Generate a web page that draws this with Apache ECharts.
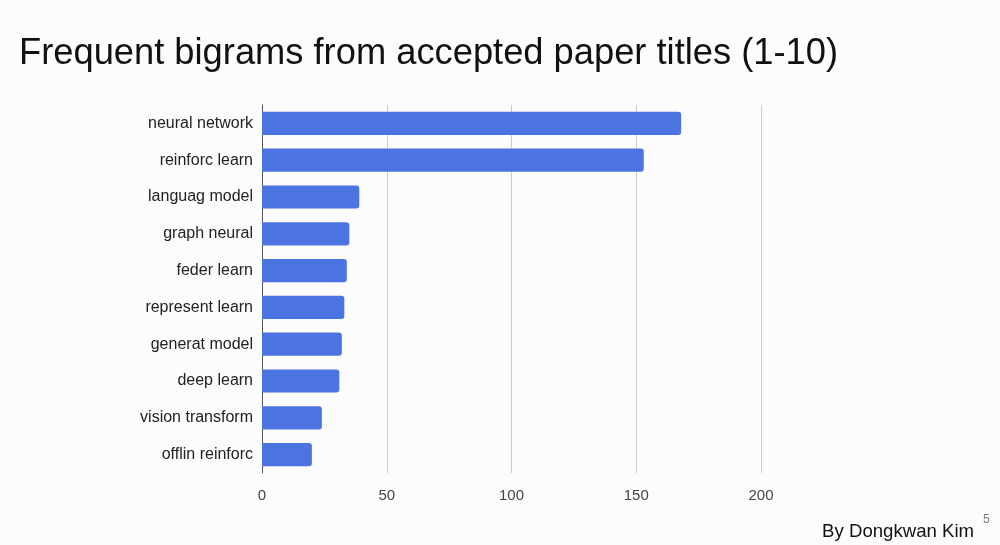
<!DOCTYPE html>
<html>
<head>
<meta charset="utf-8">
<script src="https://cdn.jsdelivr.net/npm/echarts@6/dist/echarts.min.js"></script>
<style>
html,body{margin:0;padding:0;background:#fcfcfc;}
#chart{width:1000px;height:545px;}
</style>
</head>
<body>
<div id="chart"></div>
<script>
const categories = ["neural network","reinforc learn","languag model","graph neural","feder learn","represent learn","generat model","deep learn","vision transform","offlin reinforc"];
const counts = [168,153,39,35,34,33,32,31,24,20];
const xTicks = [0,50,100,150,200];

const chart = echarts.init(document.getElementById('chart'));
chart.setOption({
  backgroundColor: '#fcfcfc',
  animation: false,
  title: {
    text: 'Frequent bigrams from accepted paper titles (1-10)',
    left: 14, top: 31,
    textStyle: {fontFamily: 'Liberation Sans, Arial, sans-serif', fontSize: 36.3, fontWeight: 'normal', color: '#111'}
  },
  graphic: [
    {type: 'text', right: 26, top: 522, style: {text: 'By Dongkwan Kim', fontFamily: 'Liberation Sans, Arial, sans-serif', fontSize: 18.6, fill: '#111'}},
    {type: 'text', left: 983, top: 514, style: {text: '5', fontFamily: 'Liberation Sans, Arial, sans-serif', fontSize: 12, fill: '#777'}}
  ],
  grid: {left: 262, right: 239, top: 105, bottom: 72, containLabel: false},
  xAxis: {
    type: 'value', min: xTicks[0], max: xTicks[xTicks.length-1], interval: 50,
    axisLine: {show: false},
    axisTick: {show: false},
    splitLine: {show: true, lineStyle: {color: '#cccccc', width: 1}},
    axisLabel: {margin: 15, fontFamily: 'Liberation Sans, Arial, sans-serif', fontSize: 15, color: '#444'}
  },
  yAxis: {
    type: 'category', inverse: true, data: categories,
    axisLine: {show: true, lineStyle: {color: '#555', width: 1}},
    axisTick: {show: false},
    axisLabel: {margin: 9, fontFamily: 'Liberation Sans, Arial, sans-serif', fontSize: 16, color: '#222'}
  },
  series: [{
    type: 'bar', data: counts,
    barCategoryGap: '37%',
    itemStyle: {color: '#4b73e1', borderRadius: [0, 3, 3, 0]}
  }]
});
</script>
</body>
</html>
